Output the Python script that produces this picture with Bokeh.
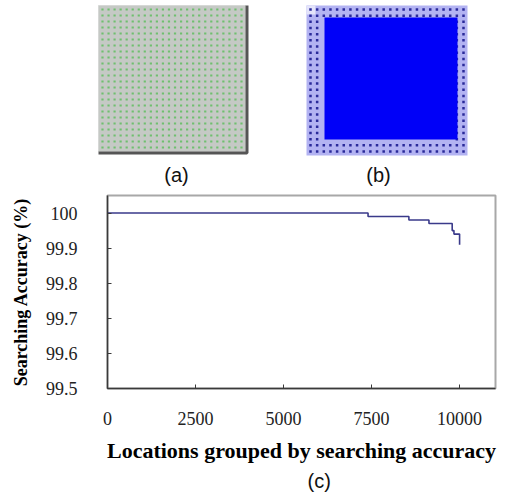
from bokeh.plotting import figure
from bokeh.models import Range1d, FixedTicker, BasicTickFormatter, Title
from bokeh.layouts import column, row
from bokeh.embed import file_html
from bokeh.resources import INLINE
from bokeh.core.properties import value
import numpy as np

# ---------------- data ----------------
# panel (c): searching accuracy step curve
locations = [0, 7400, 8560, 9130, 9790, 9840, 10000]
accuracy = [100.0, 99.99, 99.98, 99.97, 99.95, 99.94, 99.91]
x_ticks = [0, 2500, 5000, 7500, 10000]
y_ticks = [99.5, 99.6, 99.7, 99.8, 99.9, 100.0]
y_tick_labels = ["99.5", "99.6", "99.7", "99.8", "99.9", "100"]
# panels (a),(b): grid of deployed locations shown as dots
grid_n = 24
panel_labels = ["(a)", "(b)", "(c)"]

SERIF = "Liberation Serif"

# ---------------- top figure: panels (a) and (b) ----------------
top = figure(width=510, height=190, x_range=Range1d(0, 510), y_range=Range1d(190, 0),
             output_backend="svg", toolbar_location=None, min_border=0)
top.axis.visible = False
top.grid.visible = False
top.outline_line_color = None

# panel (a)
ax0, ax1, ay0, ay1 = 98, 245, 5, 151
top.quad(left=[ax0], right=[ax1], top=[ay0], bottom=[ay1], fill_color="#c5c9c5",
         line_color="#d6d8d6", line_width=1)
top.line([ax0, ax1 + 1.5, ax1 + 1.5], [ay1 + 1.5, ay1 + 1.5, ay0], line_color="#555555", line_width=3)
g = np.arange(grid_n)
gx, gy = np.meshgrid(g, g)
sx = ax0 + 4 + gx.ravel() * (ax1 - ax0 - 8) / (grid_n - 1)
sy = ay0 + 4 + gy.ravel() * (ay1 - ay0 - 8) / (grid_n - 1)
top.scatter(sx, sy, marker="square", size=2.2, fill_color="#6fbf6f", line_color=None)

# panel (b)
bx0, bx1, by0, by1 = 306, 467, 5, 155
top.quad(left=[bx0], right=[bx1], top=[by0], bottom=[by1], fill_color="#b3b3f2", line_color=None)
top.quad(left=[bx0], right=[bx0 + 9], top=[by0], bottom=[by0 + 9], fill_color="#e4e4fa", line_color=None)
tx = bx0 + 4 + gx.ravel() * (bx1 - bx0 - 8) / (grid_n - 1)
ty = by0 + 4 + gy.ravel() * (by1 - by0 - 8) / (grid_n - 1)
edge = (gx.ravel() <= 1) | (gy.ravel() <= 1) | (gx.ravel() >= grid_n - 2) | (gy.ravel() >= grid_n - 2)
top.scatter(tx[edge], ty[edge], marker="square", size=2.5, fill_color="#2a2a9a", line_color=None)
top.quad(left=[bx0 + 18], right=[bx1 - 10], top=[by0 + 12], bottom=[by1 - 16], fill_color="#0000f8", line_color=None)

top.text(x=[176, 378], y=[174, 174], text=panel_labels[:2], text_font=value("Liberation Sans"),
         text_font_size="20px", text_align="center", text_baseline="middle", text_color="#111111")

# ---------------- bottom figure: panel (c) ----------------
p = figure(width=510, height=304, x_range=Range1d(0, 11020), y_range=Range1d(99.5, 100.05),
           output_backend="svg", toolbar_location=None,
           min_border_left=107, min_border_right=15, min_border_top=5, min_border_bottom=106)
p.grid.visible = False
p.outline_line_color = "#a8a8a8"
p.outline_line_width = 2

p.step(locations, accuracy, mode="after", line_color="#3a3a8a", line_width=1.6)

for ax in (p.xaxis[0], p.yaxis[0]):
    ax.axis_line_color = "#3a3a3a"
    ax.axis_line_width = 1.5
    ax.major_tick_in = 4
    ax.major_tick_out = 0
    ax.major_tick_line_color = "#3a3a3a"
    ax.minor_tick_line_color = None
    ax.major_label_text_font_size = "18px"
    ax.major_label_text_font = SERIF
    ax.major_label_text_color = "#222222"
    ax.axis_label_text_font = SERIF
    ax.axis_label_text_font_style = "bold"
    ax.axis_label_text_color = "#000000"

p.xaxis.ticker = FixedTicker(ticks=x_ticks)
p.yaxis.ticker = FixedTicker(ticks=y_ticks)
p.xaxis.formatter = BasicTickFormatter(use_scientific=False)
p.yaxis.major_label_overrides = dict(zip(y_ticks, y_tick_labels))
p.xaxis.major_label_standoff = 23
p.yaxis.major_label_standoff = 30

p.xaxis.axis_label = "Locations grouped by searching accuracy"
p.xaxis.axis_label_text_font_size = "22px"
p.xaxis.axis_label_standoff = 10
p.yaxis.axis_label = "Searching Accuracy (%)"
p.yaxis.axis_label_text_font_size = "18px"
p.yaxis.axis_label_standoff = 12

p.add_layout(Title(text=panel_labels[2], align="left", offset=200, text_font="Liberation Sans",
                   text_font_size="20px", text_font_style="normal", text_color="#111111", standoff=4), "below")

layout = column(row(top), row(p), spacing=0)
open("out.html", "w").write(file_html(layout, INLINE))
